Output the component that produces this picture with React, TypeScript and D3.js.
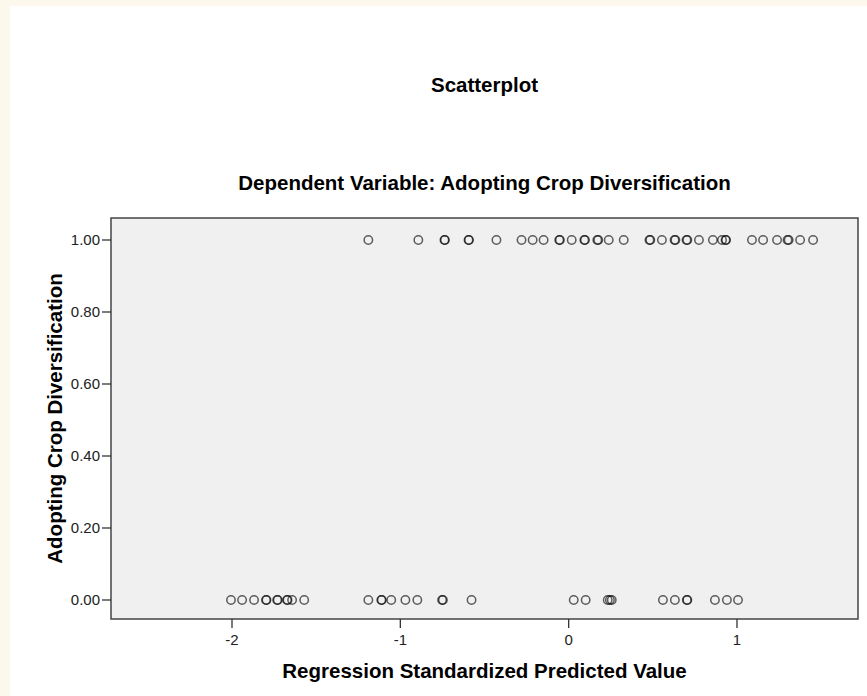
import React from "react";
import * as d3 from "d3";

const titleMain = "Scatterplot";
const titleSub = "Dependent Variable: Adopting Crop Diversification";
const xTitle = "Regression Standardized Predicted Value";
const yTitle = "Adopting Crop Diversification";

// predicted values for observations with outcome 1.00
const predictedAdopters = [
  -1.19, -0.893, -0.738, -0.735, -0.595, -0.592, -0.429, -0.28, -0.214, -0.149,
  -0.056, -0.052, 0.018, 0.093, 0.097, 0.17, 0.176, 0.238, 0.327, 0.48, 0.485,
  0.554, 0.629, 0.634, 0.7, 0.705, 0.774, 0.857, 0.911, 0.932, 0.935, 1.089,
  1.155, 1.238, 1.3, 1.307, 1.375, 1.452,
];
// predicted values for observations with outcome 0.00
const predictedNonAdopters = [
  -2.006, -1.94, -1.869, -1.798, -1.795, -1.732, -1.728, -1.673, -1.67, -1.643,
  -1.571, -1.19, -1.113, -1.11, -1.054, -0.97, -0.899, -0.752, -0.747, -0.577,
  0.03, 0.101, 0.232, 0.245, 0.256, 0.56, 0.631, 0.702, 0.705, 0.869, 0.94,
  1.006,
];
const xTicks = [-2, -1, 0, 1];
const yTicks = [0, 0.2, 0.4, 0.6, 0.8, 1.0];

const W = 867;
const H = 696;
const left = 111;
const right = 858;
const top = 218;
const bottom = 619;

export default function App() {
  const x = d3.scaleLinear().domain([-2, 1]).range([232, 737]);
  const y = d3.scaleLinear().domain([0, 1]).range([600, 240]);
  const fmt = d3.format(".2f");
  const font = "'Liberation Sans', Arial, sans-serif";
  const pts = [
    ...predictedAdopters.map((v) => ({ v, o: 1 })),
    ...predictedNonAdopters.map((v) => ({ v, o: 0 })),
  ];
  const cx = (left + right) / 2;
  const cy = (top + bottom) / 2;
  return (
    <svg
      width={W}
      height={H}
      style={{ position: "absolute", left: 0, top: 0 }}
      fontFamily={font}
    >
      <rect x={0} y={0} width={W} height={H} fill="#fdf8ec" />
      <rect x={10} y={6} width={W - 10} height={H - 6} fill="#ffffff" />
      <text x={cx} y={92} textAnchor="middle" fontSize={20.5} fontWeight="bold" fill="#000">
        {titleMain}
      </text>
      <text x={cx} y={190} textAnchor="middle" fontSize={20.5} fontWeight="bold" fill="#000">
        {titleSub}
      </text>
      <rect
        x={left}
        y={top}
        width={right - left}
        height={bottom - top}
        fill="#f0f0f0"
        stroke="#444"
        strokeWidth={1.5}
      />
      {yTicks.map((t) => (
        <g key={"y" + t}>
          <line x1={102} x2={left} y1={y(t)} y2={y(t)} stroke="#333" strokeWidth={1.3} />
          <text x={100} y={y(t)} dy="0.35em" textAnchor="end" fontSize={15} fill="#222">
            {fmt(t)}
          </text>
        </g>
      ))}
      {xTicks.map((t) => (
        <g key={"x" + t}>
          <line x1={x(t)} x2={x(t)} y1={bottom} y2={628} stroke="#333" strokeWidth={1.3} />
          <text x={x(t)} y={645} textAnchor="middle" fontSize={15} fill="#222">
            {t}
          </text>
        </g>
      ))}
      <text x={cx} y={678} textAnchor="middle" fontSize={20.5} fontWeight="bold" fill="#000">
        {xTitle}
      </text>
      <text
        transform={`translate(62,${cy}) rotate(-90)`}
        textAnchor="middle"
        fontSize={20.5}
        fontWeight="bold"
        fill="#000"
      >
        {yTitle}
      </text>
      {pts.map((p, i) => (
        <circle
          key={i}
          cx={x(p.v)}
          cy={y(p.o)}
          r={4.2}
          fill="none"
          stroke="#000"
          strokeOpacity={0.62}
          strokeWidth={1.5}
        />
      ))}
    </svg>
  );
}
